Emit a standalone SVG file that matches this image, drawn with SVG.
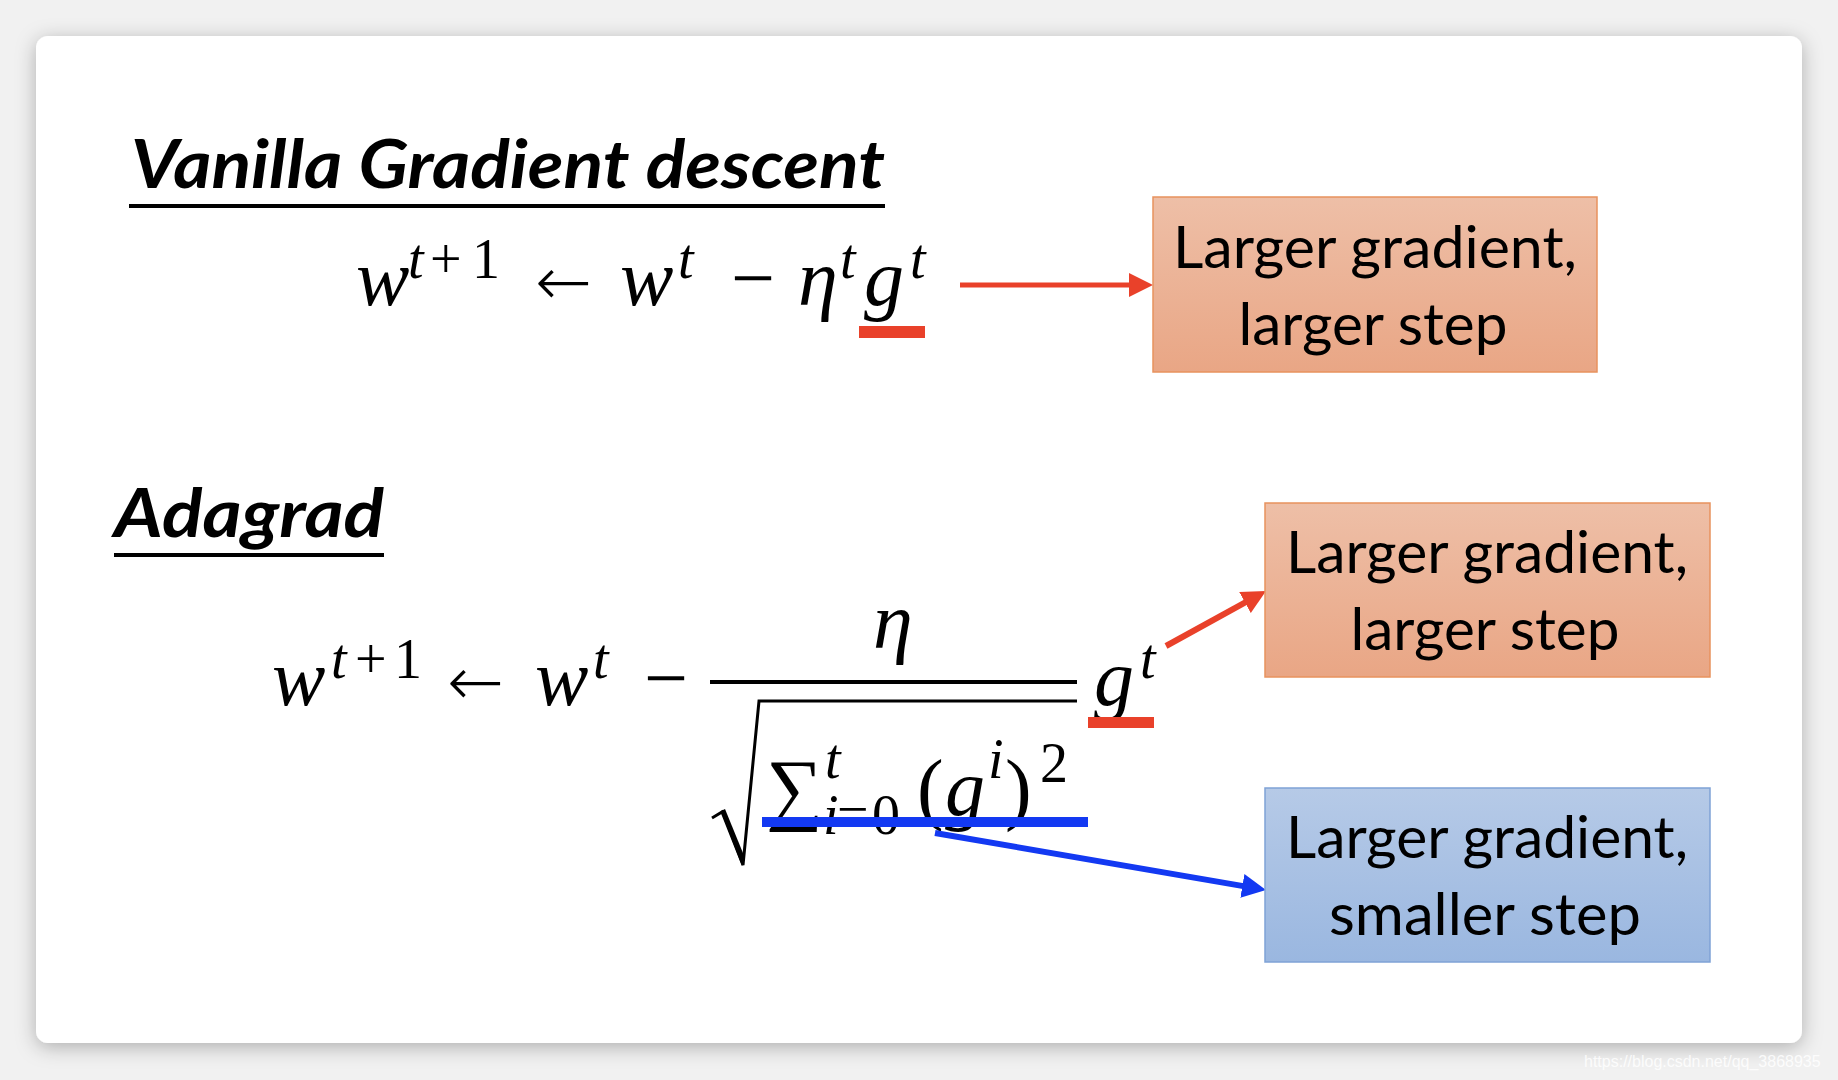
<svg xmlns="http://www.w3.org/2000/svg" width="1838" height="1080" viewBox="0 0 1838 1080">
  <defs>
    <filter id="shadow" x="-5%" y="-5%" width="110%" height="115%">
      <feDropShadow dx="0" dy="4" stdDeviation="10" flood-color="#000" flood-opacity="0.28"/>
    </filter>
    <linearGradient id="peach" x1="0" y1="0" x2="0" y2="1">
      <stop offset="0" stop-color="#EEBFA7"/>
      <stop offset="1" stop-color="#E9A685"/>
    </linearGradient>
    <linearGradient id="blue" x1="0" y1="0" x2="0" y2="1">
      <stop offset="0" stop-color="#B6CAE7"/>
      <stop offset="1" stop-color="#9AB7E0"/>
    </linearGradient>
    <marker id="headRed" viewBox="0 0 24 24" refX="4" refY="12" markerWidth="24" markerHeight="24" markerUnits="userSpaceOnUse" orient="auto">
      <path d="M0,0 L24,12 L0,24 z" fill="#E9412A"/>
    </marker>
    <marker id="headBlue" viewBox="0 0 24 24" refX="4" refY="12" markerWidth="24" markerHeight="24" markerUnits="userSpaceOnUse" orient="auto">
      <path d="M0,0 L24,12 L0,24 z" fill="#1339F2"/>
    </marker>
    <style>
      .title { font-family: Lato, "Open Sans", "Liberation Sans", sans-serif; font-weight: 700; font-style: italic; font-size: 67px; fill: #000; }
      .m { font-family: "Liberation Serif", "DejaVu Serif", serif; font-size: 80px; fill: #000; }
      .s { font-family: "Liberation Serif", "DejaVu Serif", serif; font-size: 56px; fill: #000; }
      .arr { font-family: "DejaVu Sans", sans-serif; font-weight: 200; font-size: 68px; fill: #000; }
      .i { font-style: italic; }
      .lbl { font-family: Lato, "Open Sans", "Liberation Sans", sans-serif; font-size: 58px; fill: #000; text-anchor: middle; }
      .boxP { fill: url(#peach); stroke: #E8925E; stroke-width: 1.5; }
      .boxB { fill: url(#blue); stroke: #7FA2D6; stroke-width: 1.5; }
      .red { fill: #E9412A; }
      .bl { fill: #1339F2; }
    </style>
  </defs>

  <rect x="0" y="0" width="1838" height="1080" fill="#F1F1F1"/>
  <rect x="36" y="36" width="1766" height="1007" rx="12" ry="12" fill="#FFFFFF" filter="url(#shadow)"/>

  <g id="title-vanilla">
    <text class="title" x="131" y="188" textLength="754" lengthAdjust="spacingAndGlyphs">Vanilla Gradient descent</text>
    <rect x="129" y="204" width="756" height="4" fill="#000"/>
  </g>

  <g id="eq-vanilla">
    <text class="m i" x="356" y="305">w</text>
    <text class="s" y="278"><tspan class="i" x="408">t</tspan><tspan x="430">+</tspan><tspan x="472">1</tspan></text>
    <text class="arr" x="535" y="305">←</text>
    <text class="m i" x="620" y="305">w</text>
    <text class="s i" x="678" y="278">t</text>
    <text class="m" x="731" y="305" textLength="44" lengthAdjust="spacingAndGlyphs">−</text>
    <text class="m i" x="798" y="305">η</text>
    <text class="s i" x="840" y="278">t</text>
    <text class="m i" x="864" y="305">g</text>
    <text class="s i" x="910" y="278">t</text>
    <rect class="red" x="859" y="326" width="66" height="12"/>
  </g>

  <g id="title-adagrad">
    <text class="title" x="114" y="537" textLength="270" lengthAdjust="spacingAndGlyphs">Adagrad</text>
    <rect x="114" y="553" width="270" height="4" fill="#000"/>
  </g>

  <g id="eq-adagrad">
    <text class="m i" x="272" y="705">w</text>
    <text class="s" y="678"><tspan class="i" x="331">t</tspan><tspan x="355">+</tspan><tspan x="394">1</tspan></text>
    <text class="arr" x="447" y="705">←</text>
    <text class="m i" x="535" y="705">w</text>
    <text class="s i" x="593" y="678">t</text>
    <text class="m" x="644" y="705" textLength="44" lengthAdjust="spacingAndGlyphs">−</text>
    <text class="m i" x="873" y="648">η</text>
    <rect x="710" y="680" width="367" height="4" fill="#000"/>
    <path d="M712,818 L722,812 L743,865 L759,701 L1077,701" fill="none" stroke="#000" stroke-width="3" stroke-linejoin="miter"/>
    <path d="M721,811 L725,809 L745,858 L742,866 z" fill="#000"/>
    <text class="m" x="766" y="815" font-size="86">∑</text>
    <text class="s i" x="825" y="778">t</text>
    <text class="s" y="834"><tspan class="i" x="823">i</tspan><tspan x="837">=</tspan><tspan x="872">0</tspan></text>
    <text class="m" x="917" y="815">(</text>
    <text class="m i" x="945" y="815">g</text>
    <text class="s i" x="988" y="778">i</text>
    <text class="m" x="1005" y="815">)</text>
    <text class="s" x="1040" y="782">2</text>
    <text class="m i" x="1094" y="705">g</text>
    <text class="s i" x="1140" y="678">t</text>
    <rect class="bl" x="762" y="817" width="326" height="10"/>
    <rect class="red" x="1088" y="717" width="66" height="11"/>
  </g>

  <g id="connectors">
    <line x1="960" y1="285" x2="1133" y2="285" stroke="#E9412A" stroke-width="5" marker-end="url(#headRed)"/>
    <line x1="1166" y1="646" x2="1248.5" y2="600.6" stroke="#E9412A" stroke-width="6" marker-end="url(#headRed)"/>
    <line x1="935" y1="833" x2="1246.3" y2="886.6" stroke="#1339F2" stroke-width="6" marker-end="url(#headBlue)"/>
  </g>

  <g id="box-vanilla">
    <rect class="boxP" x="1153" y="197" width="444" height="175"/>
    <text class="lbl" x="1375" y="268" textLength="404" lengthAdjust="spacingAndGlyphs">Larger gradient,</text>
    <text class="lbl" x="1373" y="345" textLength="269" lengthAdjust="spacingAndGlyphs">larger step</text>
  </g>

  <g id="box-adagrad-larger">
    <rect class="boxP" x="1265" y="503" width="445" height="174"/>
    <text class="lbl" x="1487" y="573" textLength="402" lengthAdjust="spacingAndGlyphs">Larger gradient,</text>
    <text class="lbl" x="1485" y="650" textLength="269" lengthAdjust="spacingAndGlyphs">larger step</text>
  </g>

  <g id="box-adagrad-smaller">
    <rect class="boxB" x="1265" y="788" width="445" height="174"/>
    <text class="lbl" x="1487" y="858" textLength="402" lengthAdjust="spacingAndGlyphs">Larger gradient,</text>
    <text class="lbl" x="1485" y="935" textLength="312" lengthAdjust="spacingAndGlyphs">smaller step</text>
  </g>

  <text x="1584" y="1067" font-family="'Liberation Sans', Arial, sans-serif" font-size="16" fill="#FFFFFF" fill-opacity="0.85">https://blog.csdn.net/qq_3868935</text>
</svg>
